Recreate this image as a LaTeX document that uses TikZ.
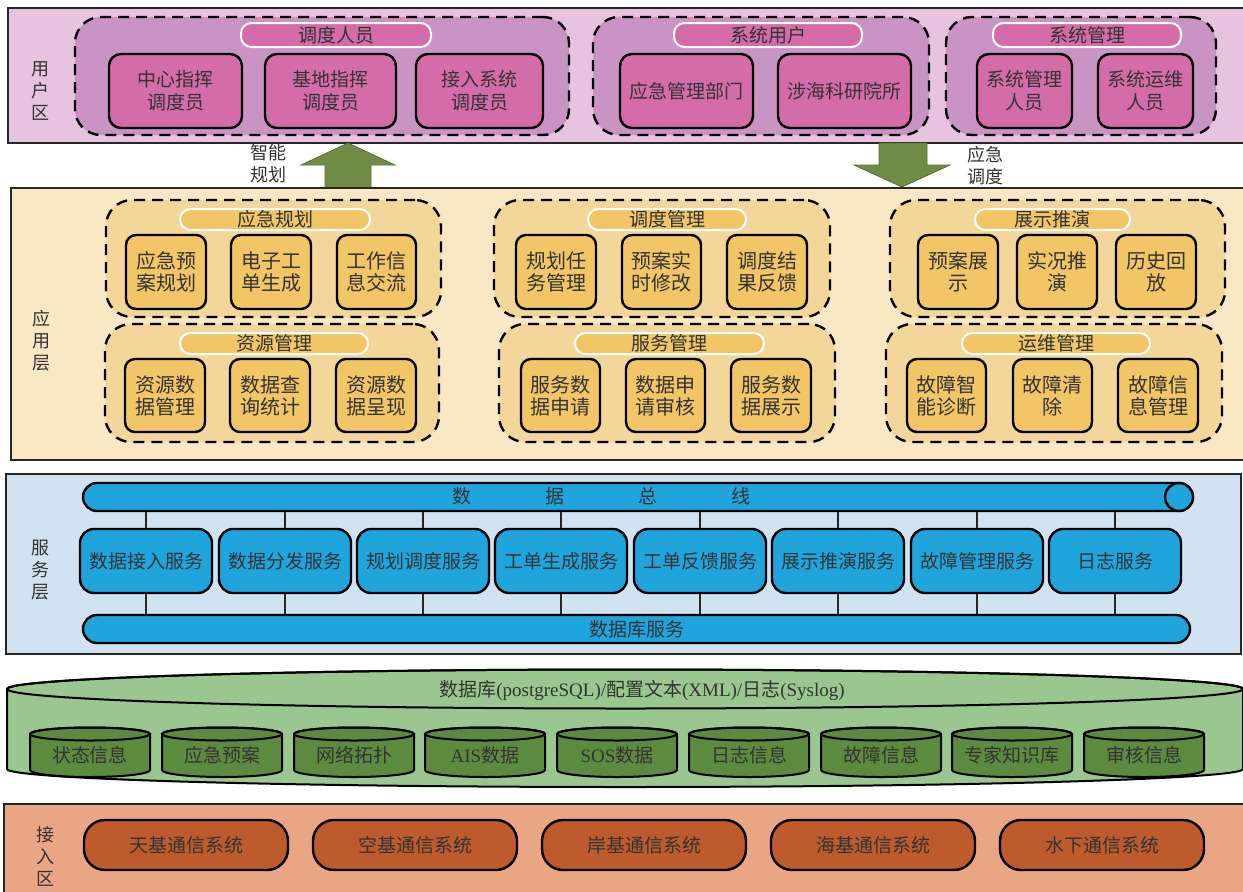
\documentclass[tikz,border=0pt]{standalone}
\usepackage{fontspec}
\setmainfont{Noto Sans CJK SC}
\newfontfamily\latinserif{Liberation Serif}

% layer colours
\definecolor{userbg}{HTML}{E6C4E0}
\definecolor{usergrp}{HTML}{C994C3}
\definecolor{userbox}{HTML}{D46CAA}
\definecolor{appbg}{HTML}{FAE7C3}
\definecolor{appgrp}{HTML}{F3D699}
\definecolor{appbox}{HTML}{F2C566}
\definecolor{svcbg}{HTML}{D1E2F0}
\definecolor{svcbox}{HTML}{1FA5DC}
\definecolor{dbbig}{HTML}{9AC78F}
\definecolor{dbsmall}{HTML}{5C8B3F}
\definecolor{accbg}{HTML}{E9A684}
\definecolor{accbox}{HTML}{BD5B2D}
\definecolor{olive}{HTML}{6F8B45}
\definecolor{txt}{HTML}{333333}

% box placed by its corners: style, name, x1, y1, x2, y2, text
\newcommand\rbox[7]{%
  \node[#1, minimum width={(#5)-(#3)}, minimum height={(#6)-(#4)}]
    (#2) at ({((#3)+(#5))/2},{((#4)+(#6))/2}) {#7};}

% small database cylinder: name, left x, text
\newcommand\dbcyl[3]{%
  \filldraw[cylline, fill=dbsmall] (#2,734) -- (#2,770)
    arc[start angle=180, end angle=360, x radius=60pt, y radius=7pt]
    -- (#2+120,734)
    arc[start angle=0, end angle=180, x radius=60pt, y radius=6.5pt] -- cycle;
  \draw[cylline] (#2+60,734) ellipse [x radius=60pt, y radius=6.5pt];
  \node[dbtxt] (#1) at (#2+60,755) {#3};}

\begin{document}
\begin{tikzpicture}[x=1pt, y=-1pt,
  layer/.style={draw=black!85, line width=2.2pt},
  grp/.style={draw=black, line width=2.4pt, dash pattern=on 11pt off 7pt,
    rounded corners=26pt, inner sep=0pt},
  pill/.style={draw=white, line width=2pt, rounded corners=10.5pt, inner sep=0pt,
    text=txt, font=\fontsize{19}{22}\selectfont},
  box/.style={draw=black, line width=2.4pt, text=txt, align=center, inner sep=1pt},
  ubox/.style={box, fill=userbox, rounded corners=12pt, font=\fontsize{19}{22.5}\selectfont},
  abox/.style={box, fill=appbox, rounded corners=10pt, font=\fontsize{20}{22}\selectfont},
  sbox/.style={box, fill=svcbox, rounded corners=14pt, font=\fontsize{19}{22}\selectfont},
  bar/.style={draw=black, line width=2.4pt, fill=svcbox, rounded corners=14pt,
    inner sep=0pt, text=txt, font=\fontsize{19}{22}\selectfont},
  cbox/.style={box, fill=accbox, rounded corners=21pt, font=\fontsize{19}{22}\selectfont},
  side/.style={text=txt, align=center, font=\fontsize{18}{22}\selectfont},
  dbtxt/.style={text=txt, font=\fontsize{19}{22}\selectfont, inner sep=0pt},
  cylline/.style={draw=black, line width=2pt},
  conn/.style={draw=black!85, line width=1.8pt},
  blockarrow/.style={fill=olive, draw=olive!80!black, line width=0.8pt}
]
\useasboundingbox (0,0) rectangle (1243,892);

% ---------------- user area ----------------
\draw[layer, fill=userbg] (8,8) rectangle (1252,143);
\node[side] (userlbl) at (40,91) {用\\户\\区};

\rbox{grp, fill=usergrp}{ug1}{75}{17}{569}{135}{}
\rbox{pill, fill=userbox}{up1}{241}{23}{431}{47}{调度人员}
\rbox{ubox}{u1}{109}{54}{242}{128}{中心指挥\\调度员}
\rbox{ubox}{u2}{265}{54}{396}{128}{基地指挥\\调度员}
\rbox{ubox}{u3}{416}{54}{543}{128}{接入系统\\调度员}

\rbox{grp, fill=usergrp}{ug2}{593}{17}{929}{135}{}
\rbox{pill, fill=userbox}{up2}{674}{23}{862}{47}{系统用户}
\rbox{ubox}{u4}{620}{54}{753}{128}{应急管理部门}
\rbox{ubox}{u5}{778}{54}{911}{128}{涉海科研院所}

\rbox{grp, fill=usergrp}{ug3}{946}{17}{1216}{135}{}
\rbox{pill, fill=userbox}{up3}{993}{23}{1181}{47}{系统管理}
\rbox{ubox}{u6}{977}{54}{1072}{128}{系统管理\\人员}
\rbox{ubox}{u7}{1098}{54}{1193}{128}{系统运维\\人员}

% ---------------- arrows between user and application areas ----------------
\draw[blockarrow] (325,188) -- (325,165) -- (301,165) -- (348,143) -- (395,165)
  -- (371,165) -- (371,188) -- cycle;
\node[side] (uplbl) at (268,164) {智能\\规划};
\draw[blockarrow] (879,143) -- (879,165) -- (854,165) -- (902,187) -- (950,165)
  -- (927,165) -- (927,143) -- cycle;
\node[side] (downlbl) at (985,166) {应急\\调度};

% ---------------- application layer ----------------
\draw[layer, fill=appbg] (11,188) rectangle (1252,460);
\node[side] (applbl) at (41,341) {应\\用\\层};

\rbox{grp, fill=appgrp}{ag1}{106}{200}{441}{317}{}
\rbox{pill, fill=appbox}{ap1}{180}{209}{370}{230}{应急规划}
\rbox{abox}{a11}{126}{235}{206}{309}{应急预\\案规划}
\rbox{abox}{a12}{231}{235}{311}{309}{电子工\\单生成}
\rbox{abox}{a13}{337}{235}{416}{309}{工作信\\息交流}

\rbox{grp, fill=appgrp}{ag2}{105}{324}{439}{442}{}
\rbox{pill, fill=appbox}{ap2}{180}{333}{368}{354}{资源管理}
\rbox{abox}{a21}{125}{359}{205}{432}{资源数\\据管理}
\rbox{abox}{a22}{230}{359}{310}{432}{数据查\\询统计}
\rbox{abox}{a23}{336}{359}{416}{432}{资源数\\据呈现}

\rbox{grp, fill=appgrp}{ag3}{494}{200}{830}{317}{}
\rbox{pill, fill=appbox}{ap3}{588}{209}{746}{230}{调度管理}
\rbox{abox}{a31}{516}{235}{596}{309}{规划任\\务管理}
\rbox{abox}{a32}{622}{235}{701}{309}{预案实\\时修改}
\rbox{abox}{a33}{727}{235}{807}{309}{调度结\\果反馈}

\rbox{grp, fill=appgrp}{ag4}{499}{324}{835}{442}{}
\rbox{pill, fill=appbox}{ap4}{575}{333}{764}{354}{服务管理}
\rbox{abox}{a41}{521}{359}{600}{432}{服务数\\据申请}
\rbox{abox}{a42}{626}{359}{705}{432}{数据申\\请审核}
\rbox{abox}{a43}{731}{359}{811}{432}{服务数\\据展示}

\rbox{grp, fill=appgrp}{ag5}{890}{200}{1225}{317}{}
\rbox{pill, fill=appbox}{ap5}{975}{209}{1130}{230}{展示推演}
\rbox{abox}{a51}{918}{235}{998}{309}{预案展\\示}
\rbox{abox}{a52}{1017}{235}{1097}{309}{实况推\\演}
\rbox{abox}{a53}{1116}{235}{1196}{309}{历史回\\放}

\rbox{grp, fill=appgrp}{ag6}{886}{324}{1222}{442}{}
\rbox{pill, fill=appbox}{ap6}{962}{333}{1150}{354}{运维管理}
\rbox{abox}{a61}{907}{359}{986}{432}{故障智\\能诊断}
\rbox{abox}{a62}{1013}{359}{1092}{432}{故障清\\除}
\rbox{abox}{a63}{1118}{359}{1198}{432}{故障信\\息管理}

% ---------------- service layer ----------------
\draw[layer, fill=svcbg] (6,474) rectangle (1241,654);
\node[side] (svclbl) at (40,570) {服\\务\\层};

\rbox{bar}{bus}{83}{483}{1193}{511}{}
\draw[draw=black, line width=2.4pt, fill=svcbox] (1179,497) circle [radius=14pt];
\node[dbtxt] (buslbl) at (601,496) {数\hspace{74pt}据\hspace{74pt}总\hspace{74pt}线};
\rbox{bar}{dbbus}{83}{615}{1190}{643}{数据库服务}

\foreach \n/\x/\t in {s1/80/数据接入服务, s2/219/数据分发服务, s3/357/规划调度服务,
    s4/495/工单生成服务, s5/634/工单反馈服务, s6/772/展示推演服务,
    s7/911/故障管理服务, s8/1049/日志服务} {
  \rbox{sbox}{\n}{\x}{529}{\x+132}{593}{\t}
  \draw[conn] (\n.north) -- (\n.north |- bus.south);
  \draw[conn] (\n.south) -- (\n.south |- dbbus.north);
}

% ---------------- database ----------------
\filldraw[cylline, fill=dbbig] (7,689) -- (7,769)
  arc[start angle=180, end angle=360, x radius=618pt, y radius=18pt]
  -- (1243,689)
  arc[start angle=0, end angle=180, x radius=618pt, y radius=19.5pt] -- cycle;
\draw[cylline] (625,689) ellipse [x radius=618pt, y radius=19.5pt];
\node[dbtxt] (dblbl) at (642,690)
  {数据库{\latinserif (postgreSQL)/}配置文本{\latinserif (XML)/}日志{\latinserif (Syslog)}};

\dbcyl{d1}{30}{状态信息}
\dbcyl{d2}{162}{应急预案}
\dbcyl{d3}{294}{网络拓扑}
\dbcyl{d4}{425}{{\latinserif AIS}数据}
\dbcyl{d5}{557}{{\latinserif SOS}数据}
\dbcyl{d6}{689}{日志信息}
\dbcyl{d7}{821}{故障信息}
\dbcyl{d8}{952}{专家知识库}
\dbcyl{d9}{1084}{审核信息}

% ---------------- access area ----------------
\draw[layer, fill=accbg] (4,804) rectangle (1252,900);
\node[side] (acclbl) at (45,856) {接\\入\\区};

\rbox{cbox}{c1}{84}{820}{288}{870}{天基通信系统}
\rbox{cbox}{c2}{313}{820}{517}{870}{空基通信系统}
\rbox{cbox}{c3}{542}{820}{746}{870}{岸基通信系统}
\rbox{cbox}{c4}{771}{820}{975}{870}{海基通信系统}
\rbox{cbox}{c5}{1000}{820}{1204}{870}{水下通信系统}

\end{tikzpicture}
\end{document}
